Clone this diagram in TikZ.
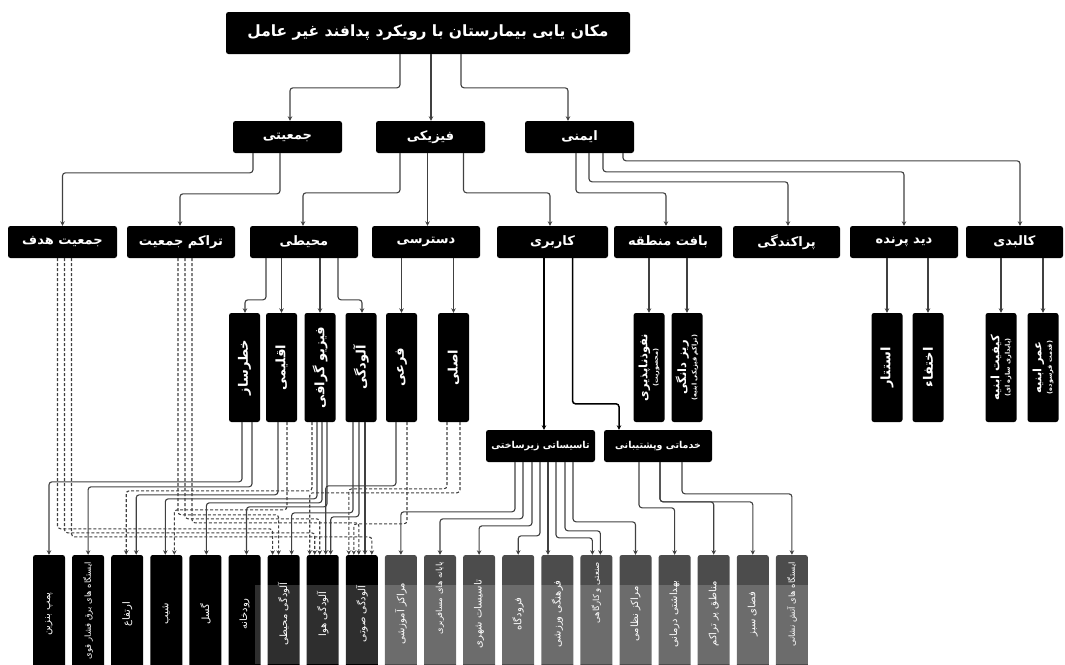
\documentclass[tikz,border=0pt]{standalone}
\usepackage{fontspec}
\usetikzlibrary{arrows.meta}
\newfontfamily\fa[Script=Arabic]{DejaVu Sans}
\TeXXeTstate=1
\newcommand{\rl}[1]{\beginR #1\endR}
\newcommand{\fsz}[1]{\fontsize{#1}{#1}\selectfont}
\newcommand{\longlbl}[1]{\makebox[104pt][r]{\fsz{8.4}\rl{#1}}}
% elbow connector: source, start offset, target, end offset, height of the elbow above the target
\newcommand{\wire}[6][wire]{\draw[#1] ([xshift=#3]#2) |- ([xshift=#5,yshift=#6]#4) -- ([xshift=#5]#4);}
% straight drop
\newcommand{\drop}[4][wire]{\draw[#1] ([xshift=#3]#2) coordinate (dtop) -- (dtop |- #4);}

\tikzset{
  box/.style={fill=black, text=white, rounded corners=2.5pt, inner sep=0pt, font=\fa\bfseries\fsz{13}},
  hbox/.style={box, minimum width=108pt, minimum height=32pt},
  vbox/.style={box, rotate=90, minimum width=109pt, minimum height=31pt, align=center},
  leaf/.style={box, rotate=90, minimum width=118pt, minimum height=32pt, font=\fa\fsz{10}},
  grayleaf/.style={leaf, fill=black!70},
  wire/.style={draw=black!75, line width=1.1pt, rounded corners=3pt, -{Stealth[length=4.5pt,width=4.5pt]}},
  dwire/.style={wire, densely dashed},
  kwire/.style={wire, draw=black, line width=1.5pt},
}

\begin{document}
\begin{tikzpicture}[x=1pt, y=-1pt]
  \useasboundingbox (0,0) rectangle (1065,664);
  \clip (0,0) rectangle (1065,664);

  % Root
  \node[hbox, minimum width=404pt, minimum height=42pt, font=\fa\bfseries\fsz{15.5}] (root) at (428,33) {\rl{مکان یابی بیمارستان با رویکرد پدافند غیر عامل}};

  % First level
  \node[hbox, minimum width=109pt] (jamiati) at (287.5,137) {\rl{جمعیتی}};
  \node[hbox, minimum width=109pt] (fiziki) at (430.5,137) {\rl{فیزیکی}};
  \node[hbox, minimum width=109pt] (imeni) at (579.5,137) {\rl{ایمنی}};

  % Second level
  \node[hbox, minimum width=109pt] (hadaf) at (62.5,242) {\rl{جمعیت هدف}};
  \node[hbox] (tarakom) at (181,242) {\rl{تراکم جمعیت}};
  \node[hbox] (mohiti) at (304,242) {\rl{محیطی}};
  \node[hbox] (dastresi) at (426,242) {\rl{دسترسی}};
  \node[hbox, minimum width=111pt] (karbari) at (552.5,242) {\rl{کاربری}};
  \node[hbox] (baft) at (668,242) {\rl{بافت منطقه}};
  \node[hbox, minimum width=107pt] (parak) at (786.5,242) {\rl{پراکندگی}};
  \node[hbox] (did) at (904,242) {\rl{دید پرنده}};
  \node[hbox, minimum width=97pt] (kalbadi) at (1014.5,242) {\rl{کالبدی}};

  % Third level (vertical)
  \node[vbox] (khatar) at (244.5,367.5) {\rl{خطرساز}};
  \node[vbox] (eghlimi) at (281.5,367.5) {\rl{اقلیمی}};
  \node[vbox] (physio) at (320,367.5) {\rl{فیزیو گرافی}};
  \node[vbox] (aloodegi) at (361,367.5) {\rl{آلودگی}};
  \node[vbox] (fari) at (401.5,367.5) {\rl{فرعی}};
  \node[vbox] (asli) at (453.5,367.5) {\rl{اصلی}};
  \node[vbox, font=\fa\bfseries\fsz{11.5}] (nofooz) at (649,367.5) {\rl{نفوذناپذیری}\\[-1pt]{\fsz{6.5}\rl{(محصوریت)}}};
  \node[vbox, font=\fa\bfseries\fsz{11.5}] (rizdane) at (687,367.5) {\rl{ریز دانگی}\\[-1pt]{\fsz{6.5}\rl{(تراکم فیزیکی ابنیه)}}};
  \node[vbox] (estetar) at (887,367.5) {\rl{استتار}};
  \node[vbox] (ekhtefa) at (928,367.5) {\rl{اختفاء}};
  \node[vbox, font=\fa\bfseries\fsz{11.5}] (kifiat) at (1001,367.5) {\rl{کیفیت ابنیه}\\[-1pt]{\fsz{6.5}\rl{(پایداری سازه ای)}}};
  \node[vbox, font=\fa\bfseries\fsz{11.5}] (omr) at (1043,367.5) {\rl{عمر ابنیه}\\[-1pt]{\fsz{6.5}\rl{(قدمت فرسوده)}}};

  % Land use groups
  \node[hbox, minimum width=109pt, font=\fa\bfseries\fsz{9.5}] (tasisat) at (540.5,446) {\rl{تاسیساتی زیرساختی}};
  \node[hbox, font=\fa\bfseries\fsz{9.5}] (khadamati) at (658,446) {\rl{خدماتی وپشتیبانی}};

  % Bottom row
  \foreach \i/\s/\t in {1/leaf/{\rl{پمپ بنزین}}, 2/leaf/{\longlbl{ایستگاه های برق فشار قوی}},
      3/leaf/{\rl{ارتفاع}}, 4/leaf/{\rl{شیب}}, 5/leaf/{\rl{گسل}}, 6/leaf/{\rl{رودخانه}},
      7/leaf/{\rl{آلودگی محیطی}}, 8/leaf/{\rl{آلودگی هوا}}, 9/leaf/{\rl{آلودگی صوتی}},
      10/grayleaf/{\rl{مراکز آموزشی}}, 11/grayleaf/{\longlbl{پایانه های مسافربری}},
      12/grayleaf/{\rl{تاسیسات شهری}}, 13/grayleaf/{\rl{فرودگاه}}, 14/grayleaf/{\rl{فرهنگی ورزشی}},
      15/grayleaf/{\longlbl{صنعتی و کارگاهی}}, 16/grayleaf/{\rl{مراکز نظامی}},
      17/grayleaf/{\rl{بهداشتی درمانی}}, 18/grayleaf/{\rl{مناطق پر تراکم}}, 19/grayleaf/{\rl{فضای سبز}},
      20/grayleaf/{\longlbl{ایستگاه های آتش نشانی}}}
    \node[\s] (b\i) at ({49+39.1*(\i-1)},614) {\t};

  % Root to first level
  \wire{root.south}{-28}{jamiati.north}{2.5}{33}
  \drop{root.south}{3}{fiziki.north}
  \wire{root.south}{33}{imeni.north}{-11.5}{33}

  % First to second level
  \wire{jamiati.south}{-34.5}{hadaf.north}{0}{53}
  \wire{jamiati.south}{-7.5}{tarakom.north}{-1}{32}
  \wire{fiziki.south}{-30.5}{mohiti.north}{-1}{33}
  \drop{fiziki.south}{-3}{dastresi.north}
  \wire{fiziki.south}{33}{karbari.north}{-2.5}{33}
  \wire{imeni.south}{-3.5}{baft.north}{-2}{33}
  \wire{imeni.south}{9.5}{parak.north}{1.5}{44}
  \wire{imeni.south}{23.5}{did.north}{0}{54}
  \wire{imeni.south}{43.5}{kalbadi.north}{5.5}{65}

  % Second to third level
  \wire{mohiti.south}{-38}{khatar.east}{0.5}{13}
  \drop{mohiti.south}{-22.5}{eghlimi.east}
  \drop{mohiti.south}{16}{physio.east}
  \wire{mohiti.south}{34}{aloodegi.east}{1}{13}
  \drop{dastresi.south}{-24.5}{fari.east}
  \drop{dastresi.south}{27.5}{asli.east}
  \drop[kwire]{karbari.south}{-8.5}{tasisat.north}
  \wire[kwire]{karbari.south}{20}{khadamati.north}{-39}{26}
  \drop{baft.south}{-19}{nofooz.east}
  \drop{baft.south}{19}{rizdane.east}
  \drop{did.south}{-17}{estetar.east}
  \drop{did.south}{24}{ekhtefa.east}
  \drop{kalbadi.south}{-13.5}{kifiat.east}
  \drop{kalbadi.south}{28.5}{omr.east}

  % Bundle into the bottom row
  \wire{khatar.west}{-2.5}{b1.east}{0}{73}
  \wire{khatar.west}{7.5}{b2.east}{0}{68}
  \wire{eghlimi.west}{-3.5}{b3.east}{9}{60}
  \wire[dwire]{eghlimi.west}{5.5}{b4.east}{8}{45}
  \wire[dwire]{physio.west}{-8}{b3.east}{-1}{64}
  \wire{physio.west}{-3}{b4.east}{-1}{56}
  \wire{physio.west}{2}{b5.east}{1}{52}
  \wire{physio.west}{7}{b6.east}{2}{48}
  \wire{aloodegi.west}{-8}{b7.east}{8}{42}
  \wire{aloodegi.west}{-2}{b8.east}{8}{38}
  \drop{aloodegi.west}{4}{b9.east}
  \wire{fari.west}{-5.5}{b8.east}{3}{69}
  \wire[dwire]{fari.west}{5.5}{b9.east}{-8}{31}
  \wire[dwire]{asli.west}{-6.5}{b9.east}{-13}{66}
  \wire[dwire]{asli.west}{6.5}{b8.east}{-13}{62}
  \wire[dwire]{hadaf.south}{-5}{b7.east}{-11}{26}
  \wire[dwire]{hadaf.south}{2}{b8.east}{-8}{22}
  \wire[dwire]{hadaf.south}{9}{b9.east}{10}{18}
  \wire[dwire]{tarakom.south}{-3}{b7.east}{-5}{40}
  \wire[dwire]{tarakom.south}{4}{b8.east}{-3}{36}
  \wire[dwire]{tarakom.south}{11}{b9.east}{-3}{32}

  % Infrastructure and services
  \wire{tasisat.south}{-25.5}{b10.east}{0}{43}
  \wire{tasisat.south}{-17.5}{b11.east}{0}{36}
  \wire{tasisat.south}{-8.5}{b12.east}{0}{29}
  \wire{tasisat.south}{-0.5}{b13.east}{0}{19}
  \drop{tasisat.south}{7.5}{b14.east}
  \wire{tasisat.south}{15.5}{b15.east}{-4}{17}
  \wire{tasisat.south}{24.5}{b15.east}{4}{24}
  \wire{tasisat.south}{32.5}{b16.east}{0}{33}
  \wire{khadamati.south}{-19}{b17.east}{0}{47}
  \wire{khadamati.south}{2}{b18.east}{0}{53}
  \wire{khadamati.south}{2}{b19.east}{0}{53}
  \wire{khadamati.south}{24}{b20.east}{0}{61}

  % faded lower band
  \fill[white, opacity=0.18] (255,585) rectangle (815,664);
\end{tikzpicture}
\end{document}
